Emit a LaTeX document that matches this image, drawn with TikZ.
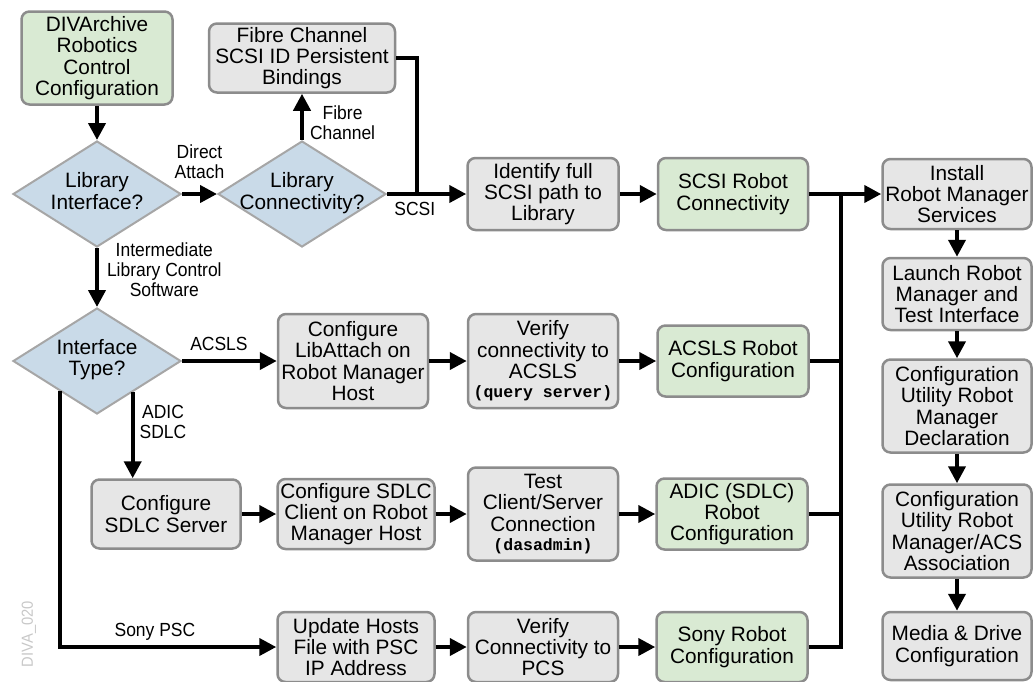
\documentclass[tikz,border=0pt]{standalone}
\usepackage{fontspec}
\setmainfont{Liberation Sans}
\setmonofont{Liberation Mono}
\newfontfamily\narrowsans[FakeStretch=0.92]{Liberation Sans}
\usetikzlibrary{calc, shapes.geometric, arrows.meta}

\definecolor{StepGray}{HTML}{E6E6E6}
\definecolor{GoalGreen}{HTML}{D9EAD3}
\definecolor{QueryBlue}{HTML}{C9DAE8}
\definecolor{EdgeGray}{HTML}{8C8C8C}
\definecolor{DiamondEdge}{HTML}{A6A6A6}
\definecolor{TagGray}{HTML}{C8C8C8}

\newcommand{\boxfont}{\fontsize{20.8}{21.3}\selectfont}
\newcommand{\tagfont}{\narrowsans\fontsize{19}{20}\selectfont}
\newcommand{\cmdfont}{\ttfamily\bfseries\fontsize{16.5}{19}\selectfont}
\newcommand{\asktext}[1]{\makebox[0pt]{\begin{tabular}{@{}c@{}}#1\end{tabular}}}

\begin{document}
\begin{tikzpicture}[x=1pt, y=-1pt]
\tikzset{StepStyle/.style = {draw=EdgeGray, line width=2.5pt, rounded corners=8pt, fill=StepGray, align=center, inner sep=1pt, font=\boxfont},
GoalStyle/.style = {StepStyle, fill=GoalGreen},
QueryStyle/.style = {diamond, aspect=1.6, draw=DiamondEdge, line width=2pt, fill=QueryBlue, inner sep=0pt, minimum width=168pt, minimum height=106pt, font=\boxfont},
ArrowStyle/.style = {line width=4pt, -{Triangle[length=17pt, width=17pt]}},
LineStyle/.style = {line width=4pt},
LabelStyle/.style = {font=\tagfont, align=center, inner sep=1pt}
}
\useasboundingbox (0,0) rectangle (1033,681);

    % Decisions on the left
    \node[GoalStyle, minimum width=151pt, minimum height=93pt] (divcfg) at (97,58) {DIVArchive\\Robotics\\Control\\Configuration};
    \node[QueryStyle] (libif) at (97,194) {\asktext{Library\\Interface?}};
    \node[QueryStyle] (libconn) at (302,194) {\asktext{Library\\Connectivity?}};
    \node[StepStyle, minimum width=186pt, minimum height=69pt] (fcbind) at (302,58) {Fibre Channel\\SCSI ID Persistent\\Bindings};
    \node[QueryStyle] (inttype) at (97,361) {\asktext{Interface\\Type?}};

    % SCSI row
    \node[StepStyle, minimum width=151pt, minimum height=72pt] (scsipath) at (543,194) {Identify full\\SCSI path to\\Library};
    \node[GoalStyle, minimum width=150pt, minimum height=72pt] (scsirobot) at (733,194) {SCSI Robot\\Connectivity};

    % ACSLS row
    \node[StepStyle, minimum width=150pt, minimum height=94pt] (libattach) at (353,361) {Configure\\LibAttach on\\Robot Manager\\Host};
    \node[StepStyle, minimum width=150pt, minimum height=94pt] (acslscheck) at (543,361) {Verify\\connectivity to\\ACSLS\\[-2pt]{\cmdfont (query server)}};
    \node[GoalStyle, minimum width=151pt, minimum height=71pt] (acslsrobot) at (733,361) {ACSLS Robot\\Configuration};

    % ADIC row
    \node[StepStyle, minimum width=149pt, minimum height=69pt] (sdlcsrv) at (166,514) {Configure\\SDLC Server};
    \node[StepStyle, minimum width=157pt, minimum height=70pt] (sdlccli) at (356,514) {Configure SDLC\\Client on Robot\\Manager Host};
    \node[StepStyle, minimum width=150pt, minimum height=93pt] (cstest) at (543,514) {Test\\Client/Server\\Connection\\[-2pt]{\cmdfont (dasadmin)}};
    \node[GoalStyle, minimum width=151pt, minimum height=71pt] (adicrobot) at (732,514) {ADIC (SDLC)\\Robot\\Configuration};

    % Sony row
    \node[StepStyle, minimum width=157pt, minimum height=70pt] (pschosts) at (356,647) {Update Hosts\\File with PSC\\IP Address};
    \node[StepStyle, minimum width=150pt, minimum height=70pt] (pcscheck) at (543,647) {Verify\\Connectivity to\\PCS};
    \node[GoalStyle, minimum width=151pt, minimum height=70pt] (sonyrobot) at (732,647) {Sony Robot\\Configuration};

    % Robot Manager column
    \node[StepStyle, minimum width=149pt, minimum height=70pt] (install) at (957,194) {Install\\Robot Manager\\Services};
    \node[StepStyle, minimum width=149pt, minimum height=72pt] (launch) at (957,294) {Launch Robot\\Manager and\\Test Interface};
    \node[StepStyle, minimum width=149pt, minimum height=93pt] (rmdecl) at (957,406) {Configuration\\Utility Robot\\Manager\\Declaration};
    \node[StepStyle, minimum width=149pt, minimum height=93pt] (rmacs) at (957,531) {Configuration\\Utility Robot\\Manager/ACS\\Association};
    \node[StepStyle, minimum width=149pt, minimum height=68pt] (media) at (957,646) {Media \& Drive\\Configuration};

    \node[rotate=90, text=TagGray, font=\narrowsans\fontsize{16}{16}\selectfont] (divatag) at (29,634) {DIVA\_020};

    \coordinate (fcjoin) at (417,194);
    \coordinate (bustop) at (841,194);
    \coordinate (adicexit) at ($(inttype.south)!0.42!(inttype.east)$);
    \coordinate (sonyexit) at ($(inttype.south)!0.44!(inttype.west)$);

    % Connectors
    \draw[ArrowStyle] (divcfg) -- (libif);
    \draw[ArrowStyle] (libif) -- node[LabelStyle, above=12pt] {Direct\\Attach} (libconn);
    \draw[ArrowStyle] (libconn) -- node[LabelStyle, right=5pt, pos=0.38] {Fibre\\Channel} (fcbind);
    \draw[ArrowStyle] (libconn) -- node[LabelStyle, below=5pt, pos=0.35] {SCSI} (scsipath);
    \draw[LineStyle] (fcbind.east) -| (fcjoin);
    \draw[ArrowStyle] (scsipath) -- (scsirobot);
    \draw[ArrowStyle] (scsirobot) -- (install);
    \draw[ArrowStyle] (libif) -- node[LabelStyle, right=7pt, pos=0.37] {Intermediate\\Library Control\\Software} (inttype);
    \draw[ArrowStyle] (inttype) -- node[LabelStyle, above=7pt, pos=0.39] {ACSLS} (libattach);
    \draw[ArrowStyle] (adicexit) -- node[LabelStyle, right=4pt, pos=0.34] {ADIC\\SDLC} (adicexit |- sdlcsrv.north);
    \draw[ArrowStyle] (sonyexit) |- node[LabelStyle, above=4pt, pos=0.72] {Sony PSC} (pschosts);

    \draw[ArrowStyle] (libattach) -- (acslscheck);
    \draw[ArrowStyle] (acslscheck) -- (acslsrobot);
    \draw[ArrowStyle] (sdlcsrv) -- (sdlccli);
    \draw[ArrowStyle] (sdlccli) -- (cstest);
    \draw[ArrowStyle] (cstest) -- (adicrobot);
    \draw[ArrowStyle] (pschosts) -- (pcscheck);
    \draw[ArrowStyle] (pcscheck) -- (sonyrobot);

    \draw[LineStyle] (acslsrobot.east) -- (acslsrobot.east -| bustop);
    \draw[LineStyle] (adicrobot.east) -- (adicrobot.east -| bustop);
    \draw[LineStyle] (sonyrobot.east) -| (bustop);

    \draw[ArrowStyle] (install) -- (launch);
    \draw[ArrowStyle] (launch) -- (rmdecl);
    \draw[ArrowStyle] (rmdecl) -- (rmacs);
    \draw[ArrowStyle] (rmacs) -- (media);
\end{tikzpicture}
\end{document}
